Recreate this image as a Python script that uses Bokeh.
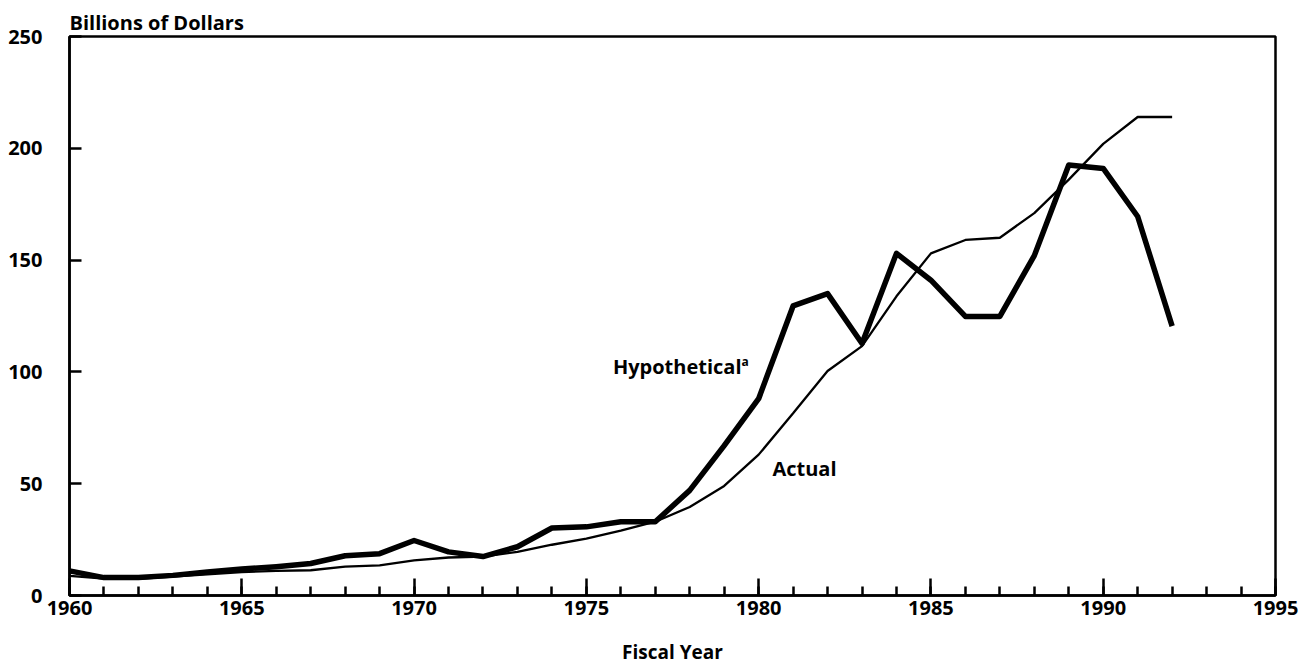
from bokeh.plotting import figure
from bokeh.models import Range1d, FixedTicker, Label, ColumnDataSource
from bokeh.embed import file_html
from bokeh.resources import INLINE

# ---- data ----
years = list(range(1960, 1993))
hypothetical = [11, 8, 8, 9, 10.5, 11.8, 12.9, 14.3, 17.8, 18.7, 24.6, 19.5, 17.4,
                21.8, 30.2, 30.7, 33, 33, 47, 67, 88, 129.5, 135, 112.7, 153, 141,
                124.8, 124.8, 152, 192.5, 191, 169.5, 120.5]
actual = [8.8, 7.6, 7.5, 8.5, 9.5, 10.5, 11, 11.3, 12.9, 13.5, 15.7, 17, 17.4,
          19.5, 22.7, 25.4, 29, 33, 39.6, 49, 63, 81.5, 100.4, 111.5, 133.8, 153,
          159, 160, 171, 186, 202, 214, 214]
x_major_ticks = [1960, 1965, 1970, 1975, 1980, 1985, 1990, 1995]
x_minor_ticks = list(range(1960, 1996))
y_ticks = [0, 50, 100, 150, 200, 250]

FONT = "Open Sans"
INK = "black"

src = ColumnDataSource(dict(year=years, hyp=hypothetical, act=actual))

p = figure(width=1300, height=667, x_range=Range1d(1960, 1995), y_range=Range1d(0, 250),
           output_backend="svg", toolbar_location=None,
           min_border_left=69, min_border_right=25, min_border_top=36, min_border_bottom=60)
p.grid.visible = False
p.background_fill_color = "white"
p.border_fill_color = "white"
p.outline_line_color = INK
p.outline_line_width = 2.5
p.outline_line_alpha = 1.0

# title
p.title.text = "Billions of Dollars"
p.title.text_font = FONT
p.title.text_font_size = "20px"
p.title.text_font_style = "bold"
p.title.text_color = INK
p.title.align = "left"
p.title.standoff = 2

# x axis
xa = p.xaxis[0]
xa.ticker = FixedTicker(ticks=x_major_ticks, minor_ticks=x_minor_ticks)
xa.major_tick_in = 17
xa.major_tick_out = 0
xa.minor_tick_in = 9
xa.minor_tick_out = 0
xa.major_tick_line_width = 2.5
xa.minor_tick_line_width = 2.5
xa.major_tick_line_color = INK
xa.minor_tick_line_color = INK
xa.axis_line_width = 2.5
xa.axis_line_color = INK
xa.major_label_text_font = FONT
xa.major_label_text_font_size = "20px"
xa.major_label_text_font_style = "bold"
xa.major_label_text_color = INK
xa.major_label_standoff = 5
xa.axis_label = "Fiscal Year"
xa.axis_label_text_font = FONT
xa.axis_label_text_font_size = "19px"
xa.axis_label_text_font_style = "bold"
xa.axis_label_text_color = INK
xa.axis_label_standoff = 21

# y axis
ya = p.yaxis[0]
ya.ticker = FixedTicker(ticks=y_ticks, minor_ticks=[])
ya.major_tick_in = 12
ya.major_tick_out = 0
ya.minor_tick_line_color = None
ya.major_tick_line_width = 2.5
ya.major_tick_line_color = INK
ya.axis_line_width = 2.5
ya.axis_line_color = INK
ya.major_label_text_font = FONT
ya.major_label_text_font_size = "20px"
ya.major_label_text_font_style = "bold"
ya.major_label_text_color = INK
ya.major_label_standoff = 27

# lines
p.line("year", "act", source=src, line_color=INK, line_width=2.3)
p.line("year", "hyp", source=src, line_color=INK, line_width=5.5, line_join="round")

# labels
p.add_layout(Label(x=1975.77, y=102.5, text="Hypothetical", text_font=FONT, text_color=INK,
                   text_font_size="20px", text_font_style="bold", text_baseline="middle"))
p.add_layout(Label(x=1979.5, y=104.5, text="a", text_font=FONT, text_color=INK,
                   text_font_size="12px", text_font_style="bold", text_baseline="middle"))
p.add_layout(Label(x=1980.4, y=56.6, text="Actual", text_font=FONT, text_color=INK,
                   text_font_size="20px", text_font_style="bold", text_baseline="middle"))

open("out.html", "w").write(file_html(p, INLINE))
